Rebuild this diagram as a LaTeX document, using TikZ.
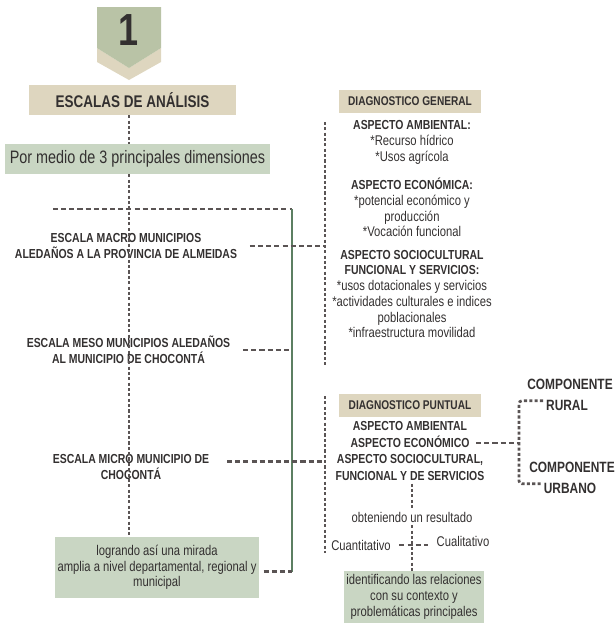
\documentclass[tikz,border=0pt]{standalone}
\usepackage{fontspec}
\setmainfont{Liberation Sans}[FakeStretch=0.8]
\usepackage{xcolor}
\usetikzlibrary{positioning}

\definecolor{beige}{HTML}{DED6BF}
\definecolor{salvia}{HTML}{C9D6C3}
\definecolor{insignia}{HTML}{B9C3A6}
\definecolor{pino}{HTML}{5C7F62}
\definecolor{gris}{HTML}{5A5454}
\definecolor{tinta}{HTML}{333030}

\newcommand\negrita[1]{{\bfseries\fontsize{9.3}{11.2}\selectfont #1}}

\begin{document}
\begin{tikzpicture}[x=0.025cm,y=-0.025cm,
    every node/.style={text=tinta,inner sep=2pt},
    titulo/.style={fill=beige,font=\bfseries\fontsize{9}{11}\selectfont,minimum height=0.575cm},
    caja/.style={fill=salvia,align=center,font=\fontsize{10}{11.2}\selectfont},
    escala/.style={align=center,font=\bfseries\fontsize{9.3}{11.2}\selectfont},
    aspecto/.style={align=center,font=\fontsize{10}{11.2}\selectfont},
    comp/.style={font=\bfseries\fontsize{10.6}{12}\selectfont},
    raya/.style={gris,line width=1.9pt,dash pattern=on 3.6pt off 2.2pt},
    punteo/.style={gris,line width=1.9pt,dash pattern=on 2.2pt off 1.6pt},
]
    \useasboundingbox (0,0) rectangle (614,625);

    % insignia
    \fill[beige] (97,48) -- (129,68) -- (161,48) -- (161,62) -- (129,80) -- (97,62) -- cycle;
    \fill[insignia] (97,7) -- (161,7) -- (161,48) -- (129,68) -- (97,48) -- cycle;
    \node[font=\bfseries\fontsize{32}{32}\selectfont] (uno) at (129,30) {1};

    % escalas
    \node[titulo,font=\bfseries\fontsize{12}{14}\selectfont,minimum width=5.175cm,minimum height=0.75cm] (escalas) at (132.5,100) {ESCALAS DE ANÁLISIS};
    \node[caja,font=\fontsize{12.8}{14}\selectfont,minimum width=6.625cm,minimum height=0.75cm] (dims) at (137.5,159) {Por medio de 3 principales dimensiones};
    \node[escala] (macro) at (126,246) {ESCALA MACRO MUNICIPIOS\\ALEDAÑOS A LA PROVINCIA DE ALMEIDAS};
    \node[escala] (meso) at (128.5,350) {ESCALA MESO MUNICIPIOS ALEDAÑOS\\AL MUNICIPIO DE CHOCONTÁ};
    \node[escala] (micro) at (131,467) {ESCALA MICRO MUNICIPIO DE\\CHOCONTÁ};
    \node[caja,minimum width=4.95cm,minimum height=1.525cm] (mirada) at (157,567.5) {logrando así una mirada\\amplia a nivel departamental, regional y\\municipal};

    \draw[punteo] (escalas.south -| uno) -- (dims.north -| uno);
    \draw[punteo] (dims.south -| uno) -- (mirada.north -| uno);

    \coordinate (esqI) at (53,209);
    \coordinate (esqD) at (292,209);
    \draw[raya] (esqI) -- (esqD);
    \draw[pino,line width=2pt] (esqD) -- ([yshift=-3pt]esqD |- mirada.east);
    \draw[raya,shorten <=3pt] ([yshift=-3pt]mirada.east) -- ([yshift=-3pt]mirada.east -| esqD);
    \draw[raya,shorten <=7pt] (meso.east) -- (meso.east -| esqD);

    % diagnostico general
    \node[titulo,minimum width=3.525cm] (gral) at (410,101.5) {DIAGNOSTICO GENERAL};
    \node[aspecto] (amb) at (412,142.5) {\negrita{ASPECTO AMBIENTAL:}\\*Recurso hídrico\\*Usos agrícola};
    \node[aspecto] (eco) at (412,207.5) {\negrita{ASPECTO ECONÓMICA:}\\*potencial económico y\\producción\\*Vocación funcional};
    \node[aspecto] (soc) at (412,294) {\negrita{ASPECTO SOCIOCULTURAL}\\\negrita{FUNCIONAL Y SERVICIOS:}\\*usos dotacionales y servicios\\*actividades culturales e indices\\poblacionales\\*infraestructura movilidad};

    \coordinate (gsup) at (325,122);
    \coordinate (ginf) at (325,365);
    \draw[punteo] (gsup) -- (ginf);
    \draw[raya,shorten <=7pt] (macro.east) -- (macro.east -| gsup);

    % diagnostico puntual
    \node[titulo,minimum width=3.55cm] (punt) at (410,405.5) {DIAGNOSTICO PUNTUAL};
    \node[escala,font=\bfseries\fontsize{9.3}{11.8}\selectfont] (pcuerpo) at (410,451) {ASPECTO AMBIENTAL\\ASPECTO ECONÓMICO\\ASPECTO SOCIOCULTURAL,\\FUNCIONAL Y DE SERVICIOS};

    \coordinate (psup) at (325,396);
    \coordinate (pinf) at (325,553);
    \draw[punteo] (psup) -- (pinf);
    \draw[raya,shorten <=10.5pt] ([yshift=4pt]micro.east) -- ([yshift=4pt]micro.east -| psup);

    % componentes
    \node[comp] (comp1) at (570,384) {COMPONENTE};
    \node[comp] (rural) at (567,405) {RURAL};
    \node[comp] (comp2) at (572,467) {COMPONENTE};
    \node[comp] (urbano) at (570,488) {URBANO};

    \coordinate (llave) at (519,443);
    \draw[punteo,rounded corners=2pt] ([yshift=3pt]rural.west) -| (llave) |- ([yshift=3pt]urbano.west);
    \draw[raya] ([xshift=-8pt]pcuerpo.east |- llave) -- (llave);

    % resultado
    \node[aspecto] (obt) at (412,517) {obteniendo un resultado};
    \node[aspecto] (cuan) at (361,545) {Cuantitativo};
    \node[aspecto] (cual) at (463,541) {Cualitativo};
    \node[caja,minimum width=3.45cm,minimum height=1.3cm] (iden) at (414,597) {identificando las relaciones\\con su contexto y\\problemáticas principales};

    \draw[punteo] (pcuerpo.south -| obt) -- (obt.north);
    \draw[punteo] (obt.south) -- (obt.south |- iden.north);
    \draw[raya,shorten <=4pt,shorten >=4pt] (cuan.east) -- (cuan.east -| cual.west);
\end{tikzpicture}
\end{document}
